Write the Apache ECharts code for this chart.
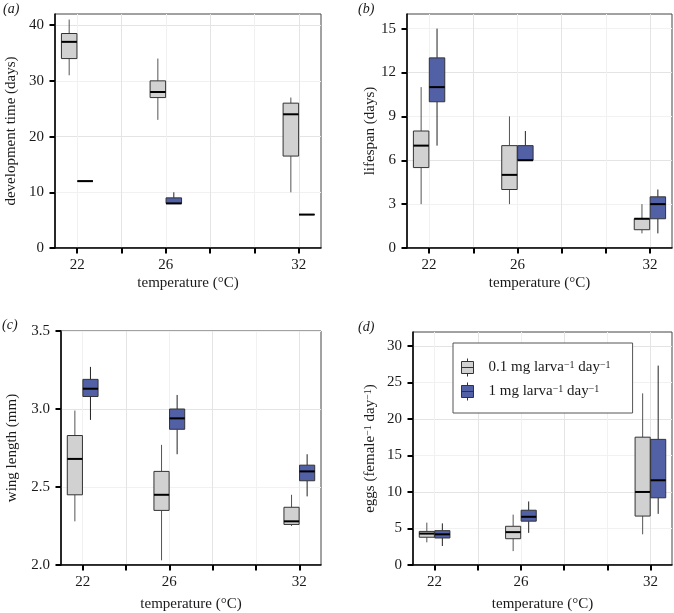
<!DOCTYPE html>
<html>
<head>
<meta charset="utf-8">
<script src="https://cdn.jsdelivr.net/npm/echarts@6/dist/echarts.min.js"></script>
<style>
html,body{margin:0;padding:0;background:#fff;}
#chart{width:674px;height:613px;}
</style>
</head>
<body>
<div id="chart"></div>
<script>
// ---- data ----
const temps = [22, 26, 32];
const groupNames = ['0.1 mg larva⁻¹ day⁻¹', '1 mg larva⁻¹ day⁻¹'];
const xTickMarks = [22, 24, 26, 28, 30, 32];
const xTickLabels = [22, 26, 32];
// [min, q1, median, q3, max] per temperature
const devLow  = [[31, 34, 37, 38.5, 41], [23, 27, 28, 30, 34], [10, 16.5, 24, 26, 27]];
const devHigh = [[12, 12, 12, 12, 12], [8, 8, 8, 9, 10], [6, 6, 6, 6, 6]];
const lifeLow  = [[3, 5.5, 7, 8, 11], [3, 4, 5, 7, 9], [1, 1.25, 2, 2, 3]];
const lifeHigh = [[7, 10, 11, 13, 15], [6, 6, 6, 7, 8], [1, 2, 3, 3.5, 4]];
const wingLow  = [[2.28, 2.45, 2.68, 2.83, 2.99], [2.03, 2.35, 2.45, 2.60, 2.77], [2.25, 2.26, 2.28, 2.37, 2.45]];
const wingHigh = [[2.93, 3.08, 3.13, 3.19, 3.27], [2.71, 2.87, 2.94, 3.00, 3.09], [2.44, 2.54, 2.60, 2.64, 2.71]];
const eggLow  = [[3.1, 3.8, 4.3, 4.6, 5.8], [1.9, 3.6, 4.5, 5.3, 6.9], [4.2, 6.7, 10.0, 17.5, 23.5]];
const eggHigh = [[2.6, 3.7, 4.2, 4.7, 5.7], [4.4, 6.0, 6.6, 7.5, 8.7], [7.0, 9.2, 11.6, 17.2, 27.3]];
const yTicksA = [0, 10, 20, 30, 40];
const yTicksB = [0, 3, 6, 9, 12, 15];
const yTicksC = [2.0, 2.5, 3.0, 3.5];
const yTicksD = [0, 5, 10, 15, 20, 25, 30];
const panelLabels = ['(a)', '(b)', '(c)', '(d)'];
const yNames = ['development time (days)', 'lifespan (days)', 'wing length (mm)',
  '{t|eggs (female}{s|−1}{t| day}{s|−1}{t|)}'];
const xName = 'temperature (°C)';

// ---- styling ----
const FONT = '"Liberation Serif", "DejaVu Serif", serif';
const TXT = '#1a1a1a';
const GREY = '#d1d1d1';
const BLUE = '#5260a6';

const grids = [
  {left: 55, top: 14, width: 266, height: 234},
  {left: 407, top: 14, width: 265, height: 234},
  {left: 61, top: 331, width: 260, height: 234},
  {left: 413, top: 332, width: 259, height: 233}
];
const yCfg = [
  {min: 0, max: 42, interval: 5, ticks: yTicksA, gap: 36, fmt: v => String(v)},
  {min: 0, max: 16, interval: 1.5, ticks: yTicksB, gap: 29, fmt: v => String(v)},
  {min: 2, max: 3.5, interval: 0.25, ticks: yTicksC, gap: 41, fmt: v => v.toFixed(1)},
  {min: 0, max: 31.9, interval: 2.5, ticks: yTicksD, gap: 35, fmt: v => String(v)}
];
const xGap = [28, 28, 32, 32];
const panelData = [[devLow, devHigh], [lifeLow, lifeHigh], [wingLow, wingHigh], [eggLow, eggHigh]];

function makeRender(offset, whiskerColor) {
  return function (params, api) {
    const t = api.value(0) + offset;
    const half = 0.35;
    const vMin = api.value(1), q1 = api.value(2), med = api.value(3), q3 = api.value(4), vMax = api.value(5);
    const pMin = api.coord([t, vMin]);
    const pQ1 = api.coord([t, q1]);
    const pQ3 = api.coord([t, q3]);
    const pMax = api.coord([t, vMax]);
    const bl = api.coord([t - half, q1]);
    const tr = api.coord([t + half, q3]);
    const m1 = api.coord([t - half, med]);
    const m2 = api.coord([t + half, med]);
    const color = api.visual('color');
    return {
      type: 'group',
      children: [
        {type: 'line', shape: {x1: pMin[0], y1: pMin[1], x2: pQ1[0], y2: pQ1[1]},
          style: {stroke: whiskerColor, lineWidth: 1}},
        {type: 'line', shape: {x1: pQ3[0], y1: pQ3[1], x2: pMax[0], y2: pMax[1]},
          style: {stroke: whiskerColor, lineWidth: 1}},
        {type: 'rect', shape: {x: bl[0], y: tr[1], width: tr[0] - bl[0], height: bl[1] - tr[1]},
          style: {fill: color, stroke: '#333', lineWidth: 1}},
        {type: 'line', shape: {x1: m1[0], y1: m1[1], x2: m2[0], y2: m2[1]},
          style: {stroke: '#000', lineWidth: 2}}
      ]
    };
  };
}

const axisTitleStyle = {fontFamily: FONT, fontSize: 15, color: TXT,
  rich: {t: {fontFamily: FONT, fontSize: 15, color: TXT}, s: {fontFamily: FONT, fontSize: 10, color: TXT, verticalAlign: 'top'}}};

const xAxes = grids.map((g, i) => ({
  type: 'value', gridIndex: i, min: 21, max: 33, interval: 1,
  axisLine: {show: true, onZero: false, lineStyle: {color: '#000', width: 1.5}},
  axisTick: {show: true, customValues: xTickMarks, length: 5.5, lineStyle: {color: '#000', width: 2}},
  axisLabel: {customValues: xTickLabels, fontFamily: FONT, fontSize: 15, color: TXT, margin: 10},
  splitLine: {show: true, lineStyle: {color: ['#f1f1f1', '#e4e4e4'], width: 1}},
  name: xName, nameLocation: 'middle', nameGap: xGap[i], nameTextStyle: axisTitleStyle
}));
const yAxes = yCfg.map((c, i) => ({
  type: 'value', gridIndex: i, min: c.min, max: c.max, interval: c.interval,
  axisLine: {show: true, onZero: false, lineStyle: {color: '#000', width: 1.5}},
  axisTick: {show: true, customValues: c.ticks, length: 5.5, lineStyle: {color: '#000', width: 2}},
  axisLabel: {customValues: c.ticks, formatter: c.fmt, fontFamily: FONT, fontSize: 15, color: TXT, margin: 11},
  splitLine: {show: true, lineStyle: {color: ['#e4e4e4', '#f1f1f1'], width: 1}},
  name: yNames[i], nameLocation: 'middle', nameGap: c.gap, nameTextStyle: axisTitleStyle
}));

const series = [];
panelData.forEach((pair, i) => {
  pair.forEach((vals, k) => {
    series.push({
      type: 'custom', name: groupNames[k], xAxisIndex: i, yAxisIndex: i,
      itemStyle: {color: k === 0 ? GREY : BLUE, borderColor: '#333', borderWidth: 1},
      renderItem: makeRender(k === 0 ? -0.36 : 0.36, k === 0 ? '#555' : '#222'),
      encode: {x: 0, y: [1, 2, 3, 4, 5]},
      data: temps.map((t, j) => [t].concat(vals[j])),
      silent: true, animation: false
    });
  });
});

const titlePos = [{left: 1, top: 0}, {left: 356, top: 0}, {left: 0, top: 316}, {left: 356, top: 318}];
const titles = panelLabels.map((lab, i) => ({
  text: lab, left: titlePos[i].left, top: titlePos[i].top, padding: 2,
  textStyle: {fontFamily: FONT, fontStyle: 'italic', fontWeight: 'normal', fontSize: 14, color: TXT}
}));

const ICON = 'path://M6,0L6,3M0,3L12,3L12,15L0,15ZM0,9L12,9M6,15L6,18';
const chart = echarts.init(document.getElementById('chart'), null, {renderer: 'canvas'});
chart.setOption({
  animation: false,
  backgroundColor: '#fff',
  title: titles,
  grid: grids.map(g => Object.assign({show: true, borderColor: '#444', borderWidth: 1, backgroundColor: '#fff', containLabel: false}, g)),
  xAxis: xAxes,
  yAxis: yAxes,
  legend: {
    data: groupNames.map(n => ({name: n, icon: ICON})),
    orient: 'vertical', left: 453, top: 343,
    padding: [15, 22, 12, 8], itemGap: 5,
    itemWidth: 24, itemHeight: 18,
    backgroundColor: '#fff', borderColor: '#555', borderWidth: 1,
    itemStyle: {borderColor: '#333', borderWidth: 1},
    selectedMode: false,
    formatter: function (name) {
      const base = name.replace(/⁻¹/g, '');
      const parts = base.split(' day');
      return '{t|' + parts[0] + '}{s|−1}{t| day}{s|−1}';
    },
    textStyle: {fontFamily: FONT, fontSize: 15, color: TXT, padding: [0, 0, 0, 4],
      rich: {t: {fontFamily: FONT, fontSize: 15, color: TXT}, s: {fontFamily: FONT, fontSize: 10, color: TXT, verticalAlign: 'top'}}}
  },
  series: series
});
</script>
</body>
</html>
